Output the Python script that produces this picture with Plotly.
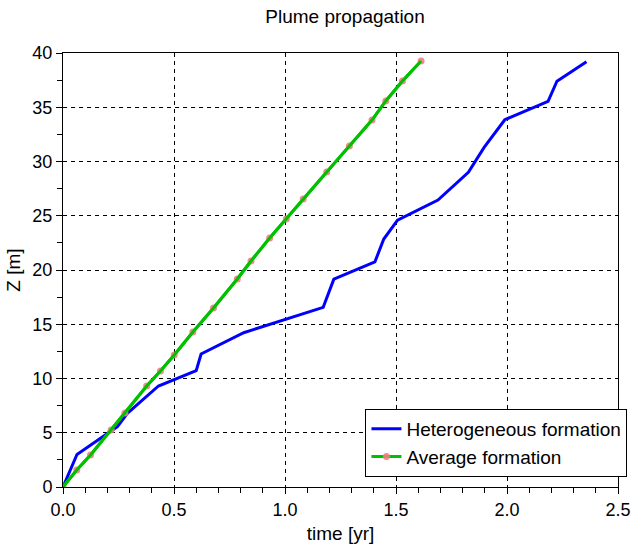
import plotly.graph_objects as go

# Heterogeneous formation (blue)
het_t = [0.0, 0.063, 0.223, 0.245, 0.29, 0.43, 0.60, 0.622, 0.814, 1.172, 1.22,
         1.405, 1.445, 1.507, 1.689, 1.826, 1.897, 1.99, 2.185, 2.225, 2.358]
het_z = [0.0, 3.0, 5.25, 5.56, 6.79, 9.31, 10.72, 12.26, 14.22, 16.56, 19.15,
         20.75, 22.85, 24.6, 26.45, 29.0, 31.3, 33.85, 35.55, 37.4, 39.2]

# Average formation (green with markers)
avg_t = [0.0, 0.062, 0.124, 0.217, 0.279, 0.377, 0.439, 0.501, 0.585, 0.678, 0.785,
         0.847, 0.931, 1.006, 1.082, 1.188, 1.29, 1.392, 1.454, 1.529, 1.613]
avg_z = [0.0, 1.57, 2.95, 5.25, 6.82, 9.31, 10.69, 12.17, 14.29, 16.5, 19.17,
         20.83, 22.95, 24.7, 26.54, 29.03, 31.43, 33.82, 35.58, 37.42, 39.26]

x_ticks = [0.0, 0.5, 1.0, 1.5, 2.0, 2.5]
x_labels = ["0.0", "0.5", "1.0", "1.5", "2.0", "2.5"]
y_ticks = [0, 5, 10, 15, 20, 25, 30, 35, 40]

BLUE = "rgb(0,0,255)"
GREEN = "rgb(0,192,0)"
SALMON = "rgba(240,128,128,0.9)"
FONT = "Liberation Sans, Arial, sans-serif"

fig = go.Figure()
fig.add_trace(go.Scatter(x=het_t, y=het_z, mode="lines", name="Heterogeneous formation",
                         line=dict(color=BLUE, width=3)))
fig.add_trace(go.Scatter(x=avg_t, y=avg_z, mode="lines+markers", name="Average formation",
                         line=dict(color=GREEN, width=3),
                         marker=dict(color=SALMON, size=7)))
fig.add_trace(go.Scatter(x=avg_t, y=avg_z, mode="lines", showlegend=False, hoverinfo="skip",
                         line=dict(color=GREEN, width=3)))

axis_common = dict(
    showline=True, linecolor="black", linewidth=1, mirror=True,
    showgrid=True, gridcolor="black", gridwidth=1, griddash="4px,4px",
    zeroline=False, ticks="outside", ticklen=6, tickcolor="black", tickwidth=1,
    tickfont=dict(family=FONT, size=18, color="black"),
)

fig.update_layout(
    width=643, height=553,
    paper_bgcolor="white", plot_bgcolor="white",
    margin=dict(l=63, r=16, t=53, b=66),
    title=dict(text="Plume propagation", x=(63 + 627) / 2 / 643, xanchor="center",
               y=1 - 16 / 553, yanchor="middle",
               font=dict(family=FONT, size=19, color="black")),
    font=dict(family=FONT, color="black"),
    xaxis=dict(range=[0, 2.5], tickvals=x_ticks, ticktext=x_labels,
               minor=dict(dtick=0.1, ticks="outside", ticklen=5, tickcolor="black", showgrid=False),
               title=dict(text="time [yr]", font=dict(family=FONT, size=19, color="black"), standoff=8),
               **axis_common),
    yaxis=dict(range=[0, 40], tickvals=y_ticks,
               minor=dict(dtick=2.5, ticks="outside", ticklen=5, tickcolor="black", showgrid=False),
               title=dict(text="Z [m]", font=dict(family=FONT, size=19, color="black"), standoff=6),
               **axis_common),
    legend=dict(x=1.017, xanchor="right", y=0.023, yanchor="bottom",
                bgcolor="white", bordercolor="black", borderwidth=1,
                font=dict(family=FONT, size=19, color="black"),
                tracegroupgap=0, itemwidth=30),
    showlegend=True,
)

fig.write_html("out.html")
